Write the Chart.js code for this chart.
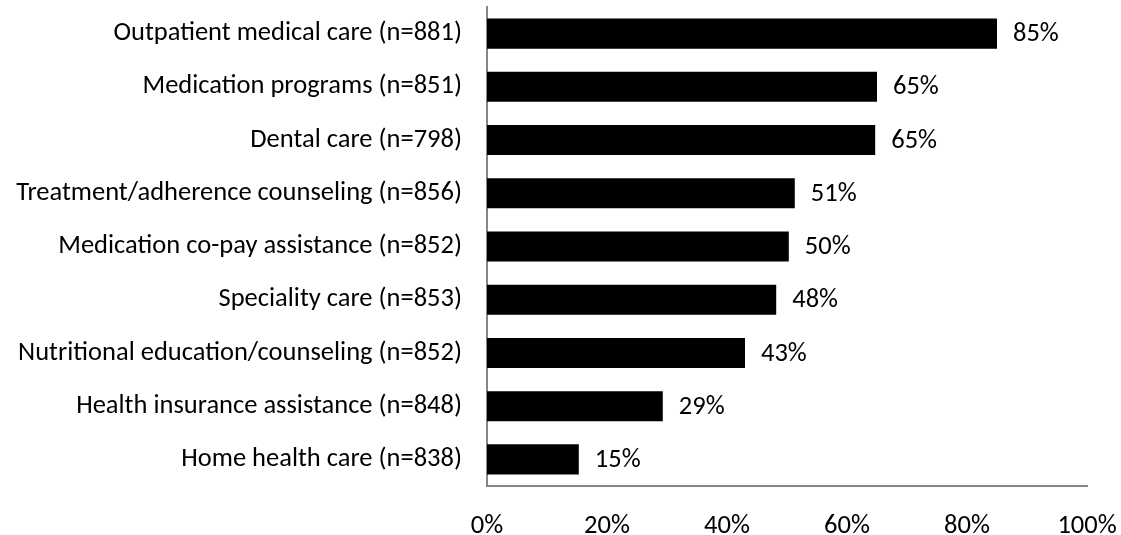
<!DOCTYPE html>
<html>
<head>
<meta charset="utf-8">
<script src="https://cdn.jsdelivr.net/npm/chart.js@4"></script>
<style>
  html, body { margin: 0; padding: 0; background: #fff; }
  #wrap { width: 1121px; height: 535px; }
</style>
</head>
<body>
<div id="wrap"><canvas id="myChart"></canvas></div>
<script>
const categories = [
    'Outpatient medical care (n=881)',
    'Medication programs (n=851)',
    'Dental care (n=798)',
    'Treatment/adherence counseling (n=856)',
    'Medication co-pay assistance (n=852)',
    'Speciality care (n=853)',
    'Nutritional education/counseling (n=852)',
    'Health insurance assistance (n=848)',
    'Home health care (n=838)'
];
const percents = [85, 65, 64.7, 51.3, 50.3, 48.2, 43, 29.3, 15.3];
const xTicks = [0, 20, 40, 60, 80, 100];

const FONT = "Calibri, Carlito, Lato, sans-serif";
const FSIZE = 26.5;

// value labels at the end of each bar
const barLabels = {
    id: 'barLabels',
    afterDatasetsDraw(chart) {
        const c = chart.ctx;
        c.save();
        c.font = FSIZE + "px " + FONT;
        c.fillStyle = '#000';
        c.textBaseline = 'middle';
        c.textAlign = 'left';
        chart.getDatasetMeta(0).data.forEach((bar, i) => {
            c.fillText(Math.round(percents[i]) + '%', bar.x + 16, bar.y + 1);
        });
        c.restore();
    }
};

// no automatic padding, the plot area is fixed by layout.padding
function noPad(axis) {
    axis.paddingTop = 0;
    axis.paddingBottom = 0;
    axis.paddingLeft = 0;
    axis.paddingRight = 0;
}

const ctx = document.getElementById("myChart").getContext("2d");
let myChart = new Chart(ctx, {
    type: 'bar',
    data: {
        labels: categories,
        datasets: [{
            data: percents,
            backgroundColor: '#000',
            barPercentage: 0.565,
            categoryPercentage: 1
        }]
    },
    options: {
        indexAxis: 'y',
        responsive: true,
        maintainAspectRatio: false,
        animation: false,
        layout: { autoPadding: false, padding: { top: 7, right: 34, left: 0, bottom: 0 } },
        plugins: {
            legend: { display: false },
            tooltip: { enabled: false }
        },
        scales: {
            x: {
                min: 0,
                max: 100,
                afterBuildTicks(axis) {
                    axis.ticks = xTicks.map(v => ({ value: v }));
                },
                afterFit(axis) { axis.height = 49; noPad(axis); },
                grid: { display: false, drawTicks: false },
                border: { display: true, color: '#868686', width: 2 },
                ticks: {
                    padding: 24,
                    color: '#000',
                    font: { size: FSIZE, family: FONT },
                    callback: v => v + '%'
                }
            },
            y: {
                afterFit(axis) { axis.width = 487; noPad(axis); },
                grid: { display: false, drawTicks: false },
                border: { display: true, color: '#868686', width: 2 },
                ticks: {
                    padding: 25,
                    color: '#000',
                    font: { size: FSIZE, family: FONT }
                }
            }
        }
    },
    plugins: [barLabels]
});
</script>
</body>
</html>
